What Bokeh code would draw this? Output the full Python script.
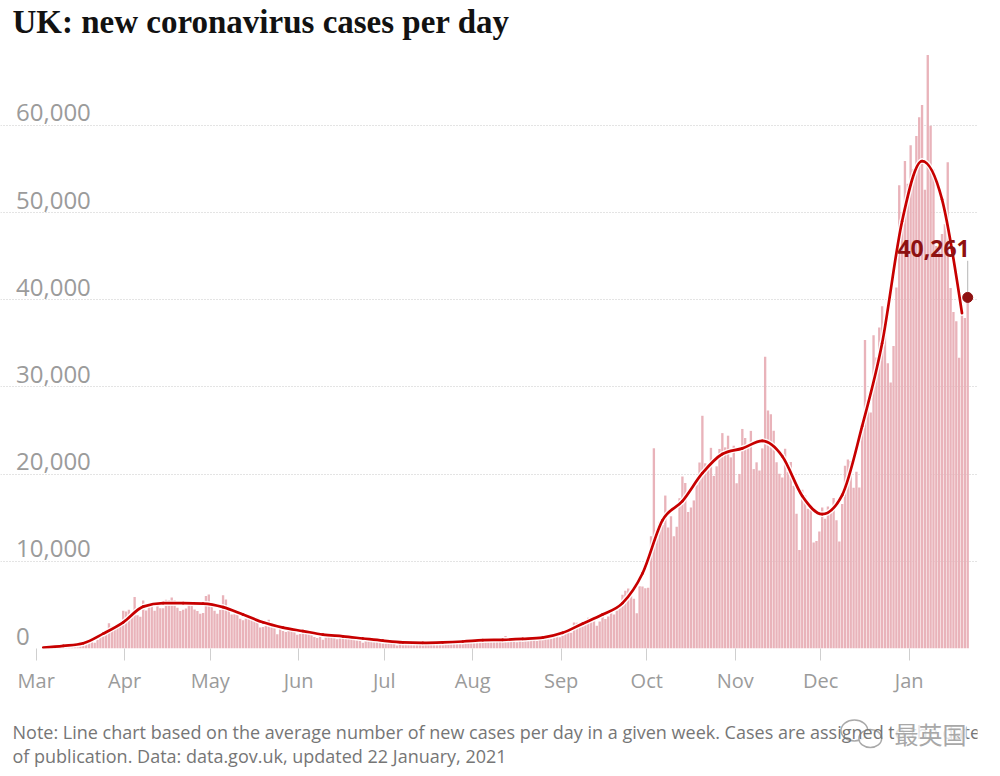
import numpy as np
import pandas as pd
from bokeh.plotting import figure
from bokeh.layouts import column
from bokeh.models import (Range1d, Label, FixedTicker, MonthsTicker,
                          DatetimeTickFormatter, ColumnDataSource)
from bokeh.embed import file_html
from bokeh.resources import INLINE

# ---------------- data ----------------
title_text = "UK: new coronavirus cases per day"
note_line1 = ("Note: Line chart based on the average number of new cases per day in a given week. "
              "Cases are assigned to the date")
note_line2 = "of publication. Data: data.gov.uk, updated 22 January, 2021"
watermark_text = "最英国"

y_ticks = [0, 10000, 20000, 30000, 40000, 50000, 60000]
y_tick_labels = ["0", "10,000", "20,000", "30,000", "40,000", "50,000", "60,000"]

first_day = "2020-03-01"
last_day = "2021-01-22"

cases_mar = [13, 4, 11, 34, 29, 48, 45, 69, 43, 67, 83, 134, 208, 342, 251, 152, 407, 676, 643, 714,
             1035, 665, 967, 1427, 1452, 2129, 2885, 2546, 2433, 2619, 3009]
cases_apr = [4324, 4244, 4450, 3735, 5903, 3802, 3634, 5491, 4344, 5195, 5288, 4342, 5252, 4603, 4617,
             5599, 5526, 5850, 5525, 4676, 4301, 4451, 4583, 5386, 4913, 4463, 4310, 3996, 4076, 6032]
cases_may = [6201, 4806, 4339, 3985, 4406, 6111, 5614, 4649, 3896, 3923, 3877, 3403, 3242, 3446, 3560,
             3451, 3142, 3534, 2412, 2472, 2615, 3287, 2959, 2405, 1625, 2400, 2013, 1887, 2095, 2445, 1936]
cases_jun = [1570, 1653, 1871, 1805, 1650, 1557, 1326, 1205, 1387, 1003, 1266, 1541, 1425, 1514, 1056,
             1279, 1115, 1218, 1346, 1295, 1221, 958, 874, 653, 1118, 1006, 890, 901, 815, 689]
cases_jul = [829, 576, 544, 624, 516, 352, 581, 630, 642, 512, 820, 650, 530, 598, 538, 463, 687, 827,
             796, 580, 445, 560, 769, 768, 767, 890, 685, 581, 763, 846, 880]
cases_aug = [771, 744, 938, 670, 892, 950, 871, 758, 1062, 816, 1148, 1009, 1441, 1012, 1040, 1040, 713,
             1182, 812, 1089, 1033, 1288, 1041, 853, 1184, 1048, 1522, 1276, 1108, 1715, 1406]
cases_sep = [1295, 1508, 1735, 1940, 1813, 2988, 2948, 2460, 2659, 2919, 3539, 3497, 3330, 2621, 3105,
             3991, 3395, 3679, 4322, 3899, 4368, 4926, 6178, 6634, 6874, 6042, 5693, 4044, 7143, 7108]
cases_oct = [6914, 6968, 12872, 22961, 12594, 14542, 14162, 17540, 13864, 15166, 12872, 13972, 17234,
             19724, 18980, 15650, 16171, 16982, 18804, 21331, 26688, 21242, 20530, 23012, 19790, 20890,
             22885, 24701, 23065, 24405, 21915]
cases_nov = [23254, 18950, 20018, 25177, 24141, 23287, 24957, 20572, 21350, 20412, 22950, 33470, 27301,
             26860, 24962, 21363, 20051, 19609, 22915, 20252, 21384, 18662, 15450, 11299, 18213, 17555,
             16022, 15871, 12155, 12330]
cases_dec = [13430, 16170, 14879, 16298, 15539, 17272, 14718, 12282, 16578, 20964, 21672, 21502, 18447,
             20263, 18450, 25161, 35383, 28507, 27052, 35928, 33364, 36804, 39237, 36804, 32725, 30501,
             34693, 41385, 53135, 50023, 55892]
cases_jan = [53285, 57725, 54990, 58784, 60916, 62322, 52618, 68053, 59937, 54940, 46169, 45533, 47525,
             48682, 55761, 41346, 38598, 37535, 33355, 38905, 37892, 40261]

daily_cases = (cases_mar + cases_apr + cases_may + cases_jun + cases_jul + cases_aug + cases_sep
               + cases_oct + cases_nov + cases_dec + cases_jan)

# weekly average (line), one value per week, first week centred on 3 March
first_week_mid = "2020-03-03 12:00"
weekly_avg = [100, 300, 600, 1700, 3000, 4800, 5200, 5200, 5150, 4750, 3900, 3000, 2400, 2000, 1600,
              1400, 1150, 900, 700, 650, 700, 800, 950, 1000, 1100, 1250, 1800, 2850, 3900, 5200, 8600,
              14700, 16900, 20100, 22300, 22950, 23800, 22050, 17500, 15400, 17600, 25500, 35000, 49000,
              55900, 51500, 38450]

# ---------------- layout constants ----------------
DAY = 86400000.0
PX_PER_DAY = 2.853
W = 984
H_MAIN, H_NOTE = 700, 68
BR, BB = 7, 52
frame_w = W - BR
frame_h = H_MAIN - BB
Y_PER_PX = 10000 / 87.2
BASE_SHIFT = 0.39   # renderer places text baseline ~0.39*size lower than asked

BAR_COLOR = "#e9b3ba"
LINE_COLOR = "#c70000"
DARK_RED = "#8e1111"
GRID_COLOR = "#c9c9c9"
TICK_TEXT = "#9b9b9b"
NOTE_TEXT = "#767676"


def to_ms(ts):
    return (pd.DatetimeIndex(ts) - pd.Timestamp("1970-01-01")) / pd.Timedelta(milliseconds=1)


days = pd.date_range(first_day, last_day, freq="D")
bar_x = np.asarray(to_ms(days)) - 0.5 * DAY
bar_src = ColumnDataSource(dict(x=bar_x, cases=daily_cases))

weeks = pd.date_range(first_week_mid, periods=len(weekly_avg), freq="7D")
wx = np.asarray(to_ms(weeks), dtype=float)
wy = np.asarray(weekly_avg, dtype=float)

x_start = float(to_ms([pd.Timestamp(first_day)])[0]) - 35.7 / PX_PER_DAY * DAY
x_end = x_start + frame_w / PX_PER_DAY * DAY
y_end = frame_h * Y_PER_PX

p = figure(width=W, height=H_MAIN, x_axis_type="datetime", output_backend="svg",
           toolbar_location=None, x_range=Range1d(x_start, x_end), y_range=Range1d(0, y_end),
           min_border_left=0, min_border_right=BR, min_border_top=0, min_border_bottom=BB,
           outline_line_color=None, background_fill_color="white", border_fill_color="white")

p.yaxis.visible = False
p.xgrid.visible = False
p.ygrid.ticker = FixedTicker(ticks=y_ticks)
p.ygrid.grid_line_color = GRID_COLOR
p.ygrid.grid_line_dash = "1 2"
p.ygrid.grid_line_width = 1

p.xaxis.ticker = MonthsTicker(months=list(range(12)))
p.xaxis.formatter = DatetimeTickFormatter(months="%b", days="%b", years="%b")
p.xaxis.axis_line_color = None
p.xaxis.minor_tick_line_color = None
p.xaxis.major_tick_line_color = "#cfcfcf"
p.xaxis.major_tick_in = 0
p.xaxis.major_tick_out = 12
p.xaxis.major_label_standoff = 6
p.xaxis.major_label_text_font = "Open Sans"
p.xaxis.major_label_text_font_size = "20px"
p.xaxis.major_label_text_color = TICK_TEXT

# bars
p.vbar(x="x", top="cases", bottom=0, width=0.82 * DAY, source=bar_src,
       fill_color=BAR_COLOR, line_color=None)

# smooth weekly line (monotone cubic via bezier segments)
h = np.diff(wx)
s = np.diff(wy) / h
m = np.zeros(len(wx))
for i in range(1, len(wx) - 1):
    h0, h1 = h[i - 1], h[i]
    s0, s1 = s[i - 1], s[i]
    pp = (s0 * h1 + s1 * h0) / (h0 + h1)
    m[i] = (np.sign(s0) + np.sign(s1)) * min(abs(s0), abs(s1), 0.5 * abs(pp))
m[0] = (3 * s[0] - m[1]) / 2
m[-1] = (3 * s[-1] - m[-2]) / 2
bez = dict(x0=wx[:-1], y0=wy[:-1], x1=wx[1:], y1=wy[1:],
           cx0=wx[:-1] + h / 3, cy0=wy[:-1] + m[:-1] * h / 3,
           cx1=wx[1:] - h / 3, cy1=wy[1:] - m[1:] * h / 3)
bez_src = ColumnDataSource(bez)
p.bezier(x0="x0", y0="y0", x1="x1", y1="y1", cx0="cx0", cy0="cy0", cx1="cx1", cy1="cy1",
         source=bez_src, line_color="white", line_width=5.5, line_cap="round", line_alpha=0.9)
p.bezier(x0="x0", y0="y0", x1="x1", y1="y1", cx0="cx0", cy0="cy0", cx1="cx1", cy1="cy1",
         source=bez_src, line_color=LINE_COLOR, line_width=2.7, line_cap="round")

# latest value marker
last_x = bar_x[-1]
last_val = daily_cases[-1]
p.segment(x0=[last_x], y0=[last_val + 600], x1=[last_x], y1=[last_val + 4200],
          line_color="#b5b5b5", line_width=1)
p.scatter(x=[last_x], y=[last_val], size=10, fill_color=DARK_RED, line_color=DARK_RED)
p.add_layout(Label(x=last_x, y=last_val, x_offset=2, y_offset=40 + BASE_SHIFT * 23,
                   text=f"{last_val:,}", text_align="right", text_baseline="alphabetic",
                   text_font="Open Sans", text_font_style="bold", text_font_size="23px",
                   text_color=DARK_RED))

# y tick labels sitting above the gridlines
for t, lab in zip(y_ticks, y_tick_labels):
    p.add_layout(Label(x=15.5, x_units="screen", y=t, y_units="data",
                       y_offset=3 + BASE_SHIFT * 24, text=lab,
                       text_align="left", text_baseline="alphabetic", text_font="Open Sans",
                       text_font_size="24px", text_color=TICK_TEXT))

# title
p.add_layout(Label(x=12, y=frame_h - 34 + BASE_SHIFT * 33, x_units="screen", y_units="screen",
                   text=title_text, text_align="left", text_baseline="alphabetic",
                   text_font="Liberation Serif", text_font_style="bold", text_font_size="33px",
                   text_color="#121212"))

# ---------------- note strip ----------------
q = figure(width=W, height=H_NOTE, output_backend="svg", toolbar_location=None,
           x_range=Range1d(0, W), y_range=Range1d(0, H_NOTE),
           x_axis_location=None, y_axis_location=None,
           min_border_left=0, min_border_right=0, min_border_top=0, min_border_bottom=0,
           outline_line_color=None, background_fill_color="white", border_fill_color="white")
q.xgrid.visible = False
q.ygrid.visible = False

q.add_layout(Label(x=12, y=29 + BASE_SHIFT * 18, x_units="screen", y_units="screen",
                   text=note_line1, text_align="left", text_baseline="alphabetic",
                   text_font="Open Sans", text_font_size="18px", text_color=NOTE_TEXT))
q.add_layout(Label(x=12, y=5 + BASE_SHIFT * 18, x_units="screen", y_units="screen",
                   text=note_line2, text_align="left", text_baseline="alphabetic",
                   text_font="Open Sans", text_font_size="18px", text_color=NOTE_TEXT))

# watermark (WeChat-style bubbles + account name)
q.ellipse(x=[860, 876], y=[38, 30], width=[27, 23], height=[21, 18],
          fill_color="white", fill_alpha=0.85, line_color="#a9a9a9", line_width=1.4)
q.add_layout(Label(x=894, y=26 + BASE_SHIFT * 24, x_units="screen", y_units="screen",
                   text=watermark_text, text_align="left", text_baseline="alphabetic",
                   text_font="Noto Sans CJK SC", text_font_size="24px", text_color="#a8a8a8",
                   background_fill_color="white", background_fill_alpha=0.8))

layout = column(p, q, spacing=0)
open("out.html", "w").write(file_html(layout, INLINE))
